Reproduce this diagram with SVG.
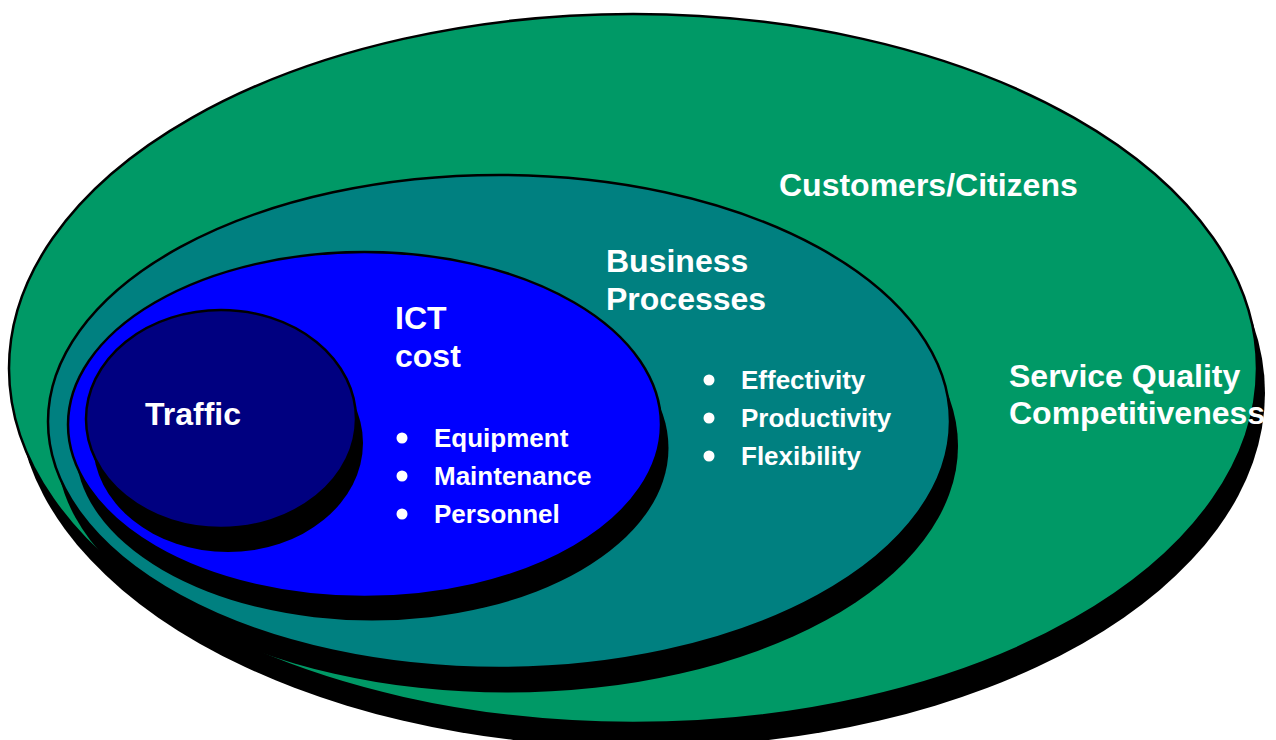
<svg xmlns="http://www.w3.org/2000/svg" width="1276" height="740" viewBox="0 0 1276 740">
  <defs>
    <style>
      .shadow { fill: #000000; }
      .ring { stroke: #000000; stroke-width: 2.5; }
      .label { font-family: "Liberation Sans", Arial, Helvetica, sans-serif; font-weight: bold; fill: #ffffff; font-size: 32px; }
      .item { font-family: "Liberation Sans", Arial, Helvetica, sans-serif; font-weight: bold; fill: #ffffff; font-size: 26px; }
      .dot { fill: #ffffff; }
    </style>
  </defs>
  <rect width="1276" height="740" fill="#ffffff"/>

  <!-- Outermost layer: customers / citizens -->
  <g id="customers">
    <ellipse class="shadow" cx="641" cy="393" rx="624" ry="354.5"/>
    <ellipse class="ring" cx="633" cy="368.5" rx="624" ry="354.5" fill="#009966"/>
    <text class="label" x="779" y="196">Customers/Citizens</text>
    <text class="label" x="1009" y="387">Service Quality</text>
    <text class="label" x="1009" y="424">Competitiveness</text>
  </g>

  <!-- Business processes layer -->
  <g id="business">
    <ellipse class="shadow" cx="507" cy="446" rx="451" ry="246.5"/>
    <ellipse class="ring" cx="499" cy="421.5" rx="451" ry="246.5" fill="#008080"/>
    <text class="label" x="606" y="272">Business</text>
    <text class="label" x="606" y="310">Processes</text>
    <circle class="dot" cx="709" cy="380" r="5.5"/>
    <circle class="dot" cx="709" cy="418" r="5.5"/>
    <circle class="dot" cx="709" cy="456" r="5.5"/>
    <text class="item" x="741" y="389">Effectivity</text>
    <text class="item" x="741" y="427">Productivity</text>
    <text class="item" x="741" y="465">Flexibility</text>
  </g>

  <!-- ICT cost layer -->
  <g id="ict-cost">
    <ellipse class="shadow" cx="372" cy="448" rx="296.5" ry="172.5"/>
    <ellipse class="ring" cx="364.5" cy="424.5" rx="296.5" ry="172.5" fill="#0000ff"/>
    <text class="label" x="395" y="329">ICT</text>
    <text class="label" x="395" y="367">cost</text>
    <circle class="dot" cx="402" cy="438" r="5.5"/>
    <circle class="dot" cx="402" cy="476" r="5.5"/>
    <circle class="dot" cx="402" cy="514" r="5.5"/>
    <text class="item" x="434" y="447">Equipment</text>
    <text class="item" x="434" y="485">Maintenance</text>
    <text class="item" x="434" y="523">Personnel</text>
  </g>

  <!-- Core: traffic -->
  <g id="traffic">
    <ellipse class="shadow" cx="228" cy="443" rx="135" ry="109"/>
    <ellipse class="ring" cx="221" cy="419" rx="135" ry="109" fill="#000080"/>
    <text class="label" x="145" y="425">Traffic</text>
  </g>
</svg>
